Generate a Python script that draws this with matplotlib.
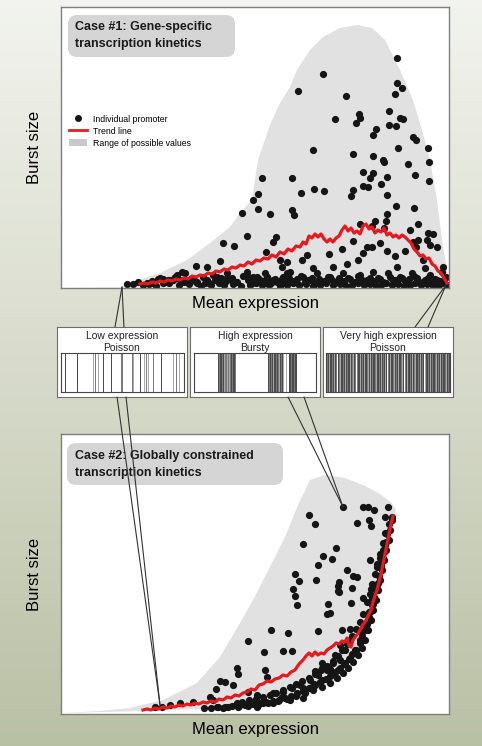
import numpy as np
import matplotlib
matplotlib.use("Agg")
import matplotlib.pyplot as plt
from matplotlib.patches import FancyBboxPatch, ConnectionPatch, Patch
from matplotlib.lines import Line2D

plt.rcParams['font.family'] = ['Liberation Sans', 'DejaVu Sans']

# ---------------- data (arbitrary units) ----------------
# Case 1: range of possible values (upper edge of the grey area)
top_env_x = [61, 90, 120, 130, 160, 187, 210, 230, 240, 252, 258, 270, 280, 290, 297,
             310, 323, 340, 357, 372, 385, 400, 413, 422, 430, 437, 442, 447, 449]
top_env_y = [0.5, 0.8, 1, 5, 15, 28, 45, 61, 75, 88, 128, 163, 185, 201, 218,
             238, 251, 260, 263, 260, 248, 218, 188, 158, 128, 88, 48, 18, 1]

# Case 1: individual promoters (scattered)
top_pts_x = [397, 323, 298, 397, 402, 395, 346, 389, 359, 360, 335, 356, 400, 403, 376, 389,
             396, 373, 413, 416, 313, 398, 428, 353, 373, 383,
             384, 408, 429, 363, 373, 292, 370, 387, 415, 363, 368, 381, 429, 314, 324, 301,
             353, 351, 387, 396, 414, 292, 294, 387, 386, 375, 360, 372, 418, 384, 410, 428,
             433, 427, 418, 413, 353, 380, 342, 367, 372, 363, 387, 395, 307, 329, 302, 405,
             416, 430, 437, 280, 287, 358, 347, 423, 443, 313, 333, 397, 425,
             262, 258, 253, 258, 242, 270, 247, 276, 273, 223, 234, 266, 220, 196, 207, 182,
             177, 282, 163, 168, 153, 147, 133, 127, 217, 227, 233, 247, 257, 260, 267, 273,
             283, 287, 173, 188, 197, 205, 268]
top_pts_y = [230, 214, 197, 205, 200, 194, 192, 177, 174, 170, 169, 165, 170, 169, 159, 163,
             162, 153, 151, 148, 138, 140, 140, 134, 132, 128,
             126, 124, 126, 116, 115, 110, 110, 111, 113, 102, 101, 104, 107, 99, 97, 95,
             98, 92, 93, 82, 80, 78, 73, 74, 67, 67, 64, 62, 64, 60, 58, 55,
             54, 48, 48, 46, 47, 45, 39, 41, 41, 35, 37, 32, 33, 34, 28, 37,
             41, 43, 41, 28, 26, 28, 24, 28, 21, 20, 21, 21, 20,
             110, 94, 88, 79, 75, 74, 52, 51, 46, 45, 42, 36, 27, 22, 21, 16,
             13, 21, 9, 8, 5, 5, 4, 4, 11, 10, 6, 13, 11, 6, 11, 8,
             10, 15, 8, 6, 5, 5, 4]

# Case 1: dense band of promoters near the bottom
top_band_x = [138, 160, 165, 175, 185, 182, 197, 207, 213, 227, 232, 237, 247, 253, 258, 265,
              268, 277, 283, 290, 295, 303, 310, 317, 322, 330, 337, 343, 348, 355, 360, 367,
              373, 378, 383, 388, 395, 400, 407, 412, 417, 423, 430, 437, 442, 445,
              143, 149, 156, 169, 179, 189, 201, 211, 219, 224, 233, 241, 250, 256, 262, 270,
              280, 287, 293, 299, 306, 313, 320, 326, 333, 340, 346, 352, 358, 364, 370, 376,
              381, 386, 392, 398, 404, 410, 415, 421, 427, 433, 439, 444, 447,
              152, 158, 163, 171, 177, 184, 191, 195, 203, 209, 215, 221, 226, 230, 236, 243,
              248, 252, 259, 263, 267, 272, 275, 281, 285, 289, 292, 297, 301, 305, 308, 312,
              315, 319, 324, 328, 332, 336, 339, 344, 350, 353, 358, 362, 366, 370, 375, 380,
              385, 390, 393, 397, 402, 405, 409, 414, 419, 425, 428, 432, 435, 440, 446]
top_band_y = [6, 10, 6, 11, 15, 8, 6, 8, 13, 15, 10, 6, 16, 11, 6, 15,
              8, 6, 11, 16, 6, 11, 8, 15, 6, 11, 6, 15, 10, 6, 13, 8,
              16, 10, 6, 15, 8, 11, 6, 15, 10, 6, 13, 8, 16, 10,
              3, 4, 2, 5, 3, 4, 2, 3, 5, 3, 4, 2, 3, 5, 3, 4,
              2, 3, 5, 3, 4, 2, 3, 5, 3, 4, 2, 3, 5, 3, 4, 2,
              3, 5, 3, 4, 2, 3, 5, 3, 4, 2, 3, 5, 3,
              7, 9, 5, 8, 10, 6, 9, 7, 11, 5, 8, 10, 7, 9, 6, 12,
              8, 5, 9, 7, 11, 6, 9, 8, 5, 10, 7, 9, 12, 6, 8, 10,
              5, 9, 7, 11, 8, 6, 10, 7, 9, 5, 12, 8, 6, 10, 7, 9,
              5, 11, 8, 6, 10, 7, 9, 12, 6, 8, 10, 5, 9, 7, 11]

# Case 1: trend line
top_trend_x = [140, 144, 148, 152, 156, 160, 164, 168, 172, 176, 180, 184, 188, 192, 196, 200,
               204, 208, 212, 216, 220, 224, 228, 232, 236, 240, 244, 248, 252, 256, 260, 264,
               268, 272, 276, 280, 284, 288, 292, 296, 300, 303, 306, 309, 312, 315, 318, 321,
               324, 327, 330, 333, 336, 339, 342, 345, 348, 351, 354, 357, 360, 363, 366, 369,
               372, 375, 378, 381, 384, 387, 390, 393, 396, 399, 402, 405, 408, 411, 414, 417,
               420, 423, 426, 429, 432, 435, 438, 441, 444, 447]
top_trend_y = [4, 5, 4, 6, 5, 7, 6, 8, 7, 9, 8, 10, 9, 12, 11, 13,
               12, 15, 14, 17, 16, 19, 18, 21, 20, 23, 22, 26, 24, 28, 27, 30,
               29, 33, 31, 36, 34, 39, 37, 42, 41, 46, 44, 52, 50, 54, 51, 54,
               49, 46, 49, 46, 50, 52, 58, 62, 57, 60, 55, 57, 54, 62, 64, 59,
               61, 55, 58, 56, 60, 53, 55, 51, 53, 50, 53, 51, 48, 45, 39, 36,
               32, 33, 29, 30, 24, 22, 17, 15, 10, 5]

# Case 2: range of possible values
bot_env_x = [61, 100, 130, 163, 197, 220, 240, 253, 270, 285, 298, 310, 325, 345, 365, 380,
             392, 396, 394, 390, 384, 378, 371, 358, 340, 313, 280, 230, 143, 61]
bot_env_y = [1, 3, 6, 14, 31, 57, 91, 114, 147, 177, 209, 234, 239, 236, 228, 220,
             211, 204, 199, 177, 149, 122, 91, 57, 36, 21, 11, 6, 3, 1]

# Case 2: individual promoters
bot_pts_x = [343, 363, 368, 374, 388, 309, 315, 357, 369, 371, 385, 392, 303, 336, 323, 332,
             318, 370, 380, 377, 347, 295, 299, 316, 353, 357, 339, 338, 293, 338, 352, 371,
             295, 363, 383, 385, 383,
             297, 328, 351, 330, 327, 339, 271, 288, 318, 342, 350, 248, 264, 283, 292, 237,
             238, 265, 267, 315, 322, 330, 322, 220, 225, 233, 216, 210, 213, 193, 180, 170,
             162, 155, 248, 257, 273, 282, 303, 312, 290, 303, 237, 245, 263, 273, 217, 223, 257,
             392, 390, 389, 386, 384, 382, 380, 378, 376, 373, 371, 368, 365, 362, 358, 353,
             348, 343, 337, 330, 322, 313, 305, 296, 287, 278, 268, 258, 248, 238, 228, 385,
             381, 377, 372, 366, 360, 355, 350, 345, 338, 330, 322, 314, 345, 340, 333, 327,
             318, 310, 300, 292, 283, 340, 335, 350, 372, 369, 362,
             389, 387, 386, 384, 383, 381, 379, 378, 376, 374, 373, 371, 369, 367, 365, 362,
             360, 356, 352, 349, 344, 340, 335, 331, 326, 320, 315, 309, 303, 297, 291, 285,
             279, 273, 266, 260, 253, 246, 239, 232, 225, 218, 211, 204,
             380, 377, 375, 372, 370, 367, 363, 360, 356, 352, 347, 342, 338, 333, 327, 321,
             315, 309, 302, 296, 290, 283, 276, 270, 263, 256, 249, 242]
bot_pts_y = [207, 207, 207, 204, 207, 199, 190, 191, 194, 188, 197, 197, 170, 166, 158, 155,
             149, 154, 156, 147, 144, 140, 133, 134, 138, 137, 132, 128, 125, 123, 126, 125,
             118, 116, 171, 181, 164,
             109, 110, 111, 101, 100, 122, 84, 81, 83, 84, 85, 73, 62, 63, 63, 46,
             40, 44, 37, 43, 46, 45, 51, 33, 32, 29, 25, 17, 14, 12, 11, 9,
             7, 7, 22, 19, 21, 17, 26, 27, 14, 16, 11, 9, 11, 11, 7, 6, 7,
             194, 184, 174, 164, 154, 144, 134, 124, 114, 104, 94, 84, 74, 66, 59, 52,
             46, 41, 36, 31, 27, 24, 21, 18, 15, 13, 11, 9, 8, 7, 7, 169,
             149, 129, 109, 89, 74, 64, 56, 51, 44, 38, 34, 30, 64, 54, 51, 44,
             39, 34, 29, 26, 22, 69, 59, 74, 116, 102, 82,
             190, 180, 172, 162, 156, 146, 138, 131, 124, 117, 110, 103, 97, 90, 84, 78,
             71, 64, 60, 55, 50, 46, 42, 39, 35, 32, 29, 26, 23, 21, 18, 16,
             14, 13, 12, 11, 10, 9, 8, 8, 7, 7, 6, 6,
             160, 150, 140, 130, 120, 112, 100, 92, 85, 78, 70, 64, 58, 53, 48, 44,
             40, 36, 33, 30, 27, 24, 21, 19, 17, 15, 14, 12]

# Case 2: trend line
bot_trend_x = [143, 147, 151, 155, 159, 163, 167, 171, 175, 179, 183, 187, 191, 195, 199, 203,
               207, 211, 215, 219, 223, 227, 231, 235, 239, 243, 247, 251, 255, 259, 263, 267,
               271, 275, 279, 283, 287, 291, 295, 299, 303, 306, 309, 312, 315, 318, 321, 324,
               327, 330, 333, 336, 339, 342, 345, 347, 349, 351, 353, 356, 359, 362, 365, 368,
               371, 373, 375, 377, 379, 381, 383, 385, 387, 389, 391, 393]
bot_trend_y = [4, 5, 4, 6, 5, 7, 6, 8, 7, 9, 8, 10, 9, 11, 10, 12,
               11, 13, 12, 15, 14, 17, 16, 19, 18, 21, 22, 25, 24, 29, 30, 33,
               32, 35, 36, 39, 38, 42, 44, 50, 54, 58, 61, 58, 62, 59, 61, 60,
               64, 66, 68, 71, 70, 73, 72, 76, 68, 67, 74, 78, 82, 88, 92, 98,
               104, 112, 118, 124, 132, 140, 150, 160, 170, 180, 190, 198]

# Transcription "barcodes": one character per time step ('.' none, 1 light, 2 mid, 3 dark)
strip_low = ("....3...........3..............1.2..1....3.......3.........2.........21"
             "......3...1.2.1....2.......3..........1..2..1....")
strip_bursty = ("........................323323122121232332..............................."
                "3232313323213231..1..33233233...................")
strip_high = ("32313323132.321332313233132132.233132313321313233213323132313.2313321323"
              "133213.2313323132133231323.1332313233213231323321323")
strip_titles = ["Low expression\nPoisson", "High expression\nBursty", "Very high expression\nPoisson"]

# ---------------- layout ----------------
W, H = 482, 746
fig = plt.figure(figsize=(W / 100, H / 100), dpi=100)


def px_rect(x0, y0, x1, y1):
    return [x0 / W, 1 - y1 / H, (x1 - x0) / W, (y1 - y0) / H]


# background gradient
ax_bg = fig.add_axes([0, 0, 1, 1], zorder=-10)
t = np.linspace(0, 1, 300)[:, None, None]
c_top = np.array([0.95, 0.955, 0.935])
c_mid = np.array([0.845, 0.858, 0.795])
c_bot = np.array([0.725, 0.755, 0.645])
grad = np.where(t < 0.5, c_top + (c_mid - c_top) * (t / 0.5), c_mid + (c_bot - c_mid) * ((t - 0.5) / 0.5))
grad = np.repeat(grad, 10, axis=1)
ax_bg.imshow(grad, aspect='auto', extent=[0, 1, 0, 1])
ax_bg.axis('off')

DOT = '#151515'
RED = '#e8191e'
ENV = '#e1e1e1'


def panel(rect, ymax):
    ax = fig.add_axes(px_rect(*rect))
    ax.set_xlim(61, 449)
    ax.set_ylim(0, ymax)
    ax.set_xticks([])
    ax.set_yticks([])
    for s in ax.spines.values():
        s.set_color('#7f7f7f')
        s.set_linewidth(1.0)
    ax.set_xlabel('Mean expression', fontsize=12, labelpad=6)
    ax.set_ylabel('Burst size', fontsize=12, labelpad=14)
    return ax


# top panel
ax1 = panel((61, 7, 449, 288), 281)
ax1.fill(top_env_x, top_env_y, color=ENV, lw=0, zorder=1)
ax1.scatter(top_pts_x + top_band_x, top_pts_y + top_band_y, s=27, color=DOT, lw=0, zorder=2)
ax1.plot(top_trend_x, top_trend_y, color=RED, lw=2.3, zorder=3)
ax1.add_patch(FancyBboxPatch((68, 231), 167, 42, boxstyle='round,pad=0,rounding_size=9',
                             fc='#d5d5d5', ec='none', zorder=4))
ax1.text(75, 252.5, 'Case #1: Gene-specific\ntranscription kinetics', fontsize=9,
         fontweight='bold', ha='left', va='center', color='#1a1a1a', linespacing=1.45, zorder=5)
handles = [Line2D([], [], marker='o', ls='none', color=DOT, markersize=4),
           Line2D([], [], color=RED, lw=2),
           Patch(facecolor='#c9c9c9', edgecolor='none')]
ax1.legend(handles, ['Individual promoter', 'Trend line', 'Range of possible values'],
           loc='upper left', bbox_to_anchor=(0.021, 0.617), frameon=False, fontsize=6.3,
           handlelength=2.0, handleheight=0.9, labelspacing=0.35, handletextpad=0.75,
           borderpad=0, borderaxespad=0)

# bottom panel
ax2 = panel((61, 434, 449, 714), 280)
ax2.fill(bot_env_x, bot_env_y, color=ENV, lw=0, zorder=1)
ax2.scatter(bot_pts_x, bot_pts_y, s=27, color=DOT, lw=0, zorder=2)
ax2.plot(bot_trend_x, bot_trend_y, color=RED, lw=2.3, zorder=3)
ax2.add_patch(FancyBboxPatch((67, 229), 216, 42, boxstyle='round,pad=0,rounding_size=9',
                             fc='#d5d5d5', ec='none', zorder=4))
ax2.text(75, 249.5, 'Case #2: Globally constrained\ntranscription kinetics', fontsize=9,
         fontweight='bold', ha='left', va='center', color='#1a1a1a', linespacing=1.45, zorder=5)

# middle boxes with barcodes
shades = {'1': '#a9a9a9', '2': '#7b7b7b', '3': '#4b4b4b'}
box_rects = [(57, 327, 187, 397), (190, 327, 320, 397), (323, 327, 453, 397)]
strip_rects = [(61, 353, 184, 392), (194, 353, 316, 392), (326, 353, 450, 392)]
boxes = []
for brect, srect, title, code in zip(box_rects, strip_rects, strip_titles,
                                     [strip_low, strip_bursty, strip_high]):
    bx = fig.add_axes(px_rect(*brect))
    bx.set_xticks([])
    bx.set_yticks([])
    for s in bx.spines.values():
        s.set_color('#6e6e6e')
        s.set_linewidth(0.8)
    bx.text(0.5, 0.79, title, fontsize=7.5, ha='center', va='center', linespacing=1.2,
            color='#222222', transform=bx.transAxes)
    boxes.append(bx)
    sx = fig.add_axes(px_rect(*srect))
    idx = [i for i, ch in enumerate(code) if ch != '.']
    sx.bar([i + 0.5 for i in idx], [1] * len(idx), width=1.0,
           color=[shades[code[i]] for i in idx], lw=0)
    sx.set_xlim(0, len(code))
    sx.set_ylim(0, 1)
    sx.set_xticks([])
    sx.set_yticks([])
    for s in sx.spines.values():
        s.set_color('#444444')
        s.set_linewidth(0.8)

# callout lines
callouts = [
    ((122, 1), ax1, (0.446, 1.0), boxes[0]),
    ((122, 1), ax1, (0.515, 1.0), boxes[0]),
    ((446, 3), ax1, (0.708, 1.0), boxes[2]),
    ((446, 3), ax1, (0.808, 1.0), boxes[2]),
    ((160, 9), ax2, (0.462, 0.0), boxes[0]),
    ((160, 9), ax2, (0.531, 0.0), boxes[0]),
    ((343, 207), ax2, (0.754, 0.0), boxes[1]),
    ((343, 207), ax2, (0.877, 0.0), boxes[1]),
]
for xyA, axA, xyB, axB in callouts:
    cp = ConnectionPatch(xyA=xyA, coordsA=axA.transData, xyB=xyB, coordsB=axB.transAxes,
                         color='#333333', lw=0.8, zorder=20)
    fig.add_artist(cp)

fig.savefig('out.png', dpi=100)
